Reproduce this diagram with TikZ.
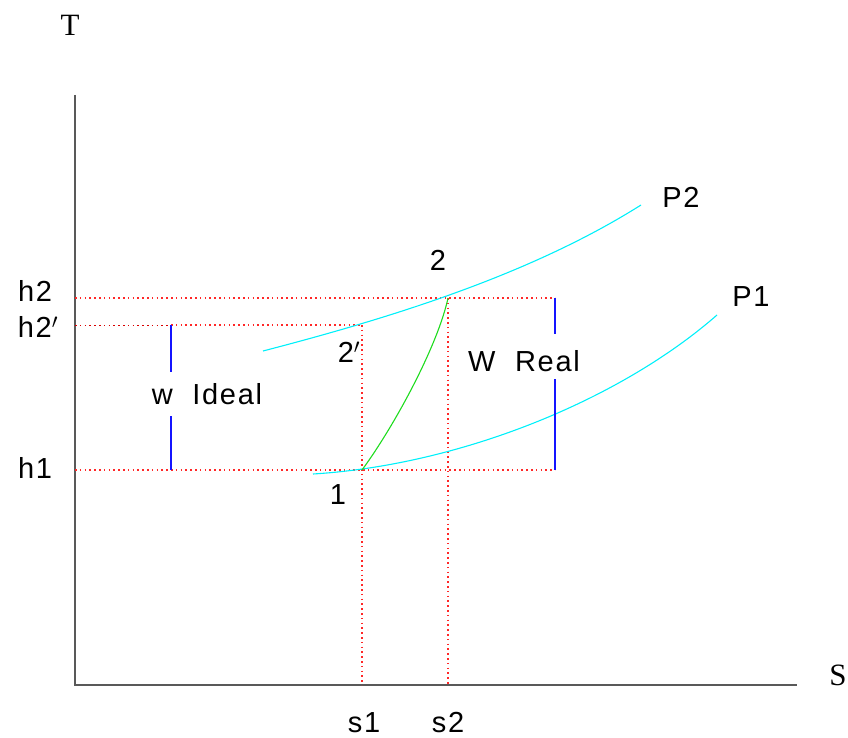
\documentclass[tikz,border=0pt]{standalone}
\usepackage{fontspec}
\setmainfont{Liberation Serif}
\newfontfamily\cadfont[LetterSpace=6]{Liberation Sans}
\usetikzlibrary{positioning}
\definecolor{isocyan}{RGB}{0,240,250}
\definecolor{realgreen}{RGB}{30,220,30}
\definecolor{guidered}{RGB}{255,40,40}
\definecolor{workblue}{RGB}{20,20,255}

\begin{document}
\begin{tikzpicture}[x=1pt, y=-1pt, line width=.8pt,
    axis/.style={draw=black!65, line width=1.3pt},
    guide/.style={guidered, line width=1.2pt, dash pattern=on 1.6pt off 3.2pt},
    isobar/.style={isocyan, line width=1.1pt},
    bar/.style={workblue, line width=1.1pt},
    lbl/.style={font=\cadfont\fontsize{29}{32}\selectfont, inner sep=0pt},
    axlbl/.style={font=\fontsize{31}{33}\selectfont, inner sep=0pt}]
    \useasboundingbox (0,0) rectangle (848,738);

    % axes
    \coordinate (ytop) at (75,95);
    \coordinate (orig) at (75,685);
    \coordinate (xend) at (797,685);
    \draw[axis] (ytop) -- (orig) -- (xend);
    \node[axlbl] (T) at (70,25) {T};
    \node[axlbl] (S) at (838,675) {S};

    % state points and guide ends
    \coordinate (pt1) at (362,470);
    \coordinate (pt2) at (448,298);
    \coordinate (pt2i) at (362,325);
    \coordinate (h1ax) at (75,470);
    \coordinate (h2ax) at (75,298);
    \coordinate (h2iax) at (75,325);
    \coordinate (h2imid) at (171,325);
    \coordinate (s1ax) at (362,685);
    \coordinate (s2ax) at (448,685);
    \coordinate (wr2) at (555,298);
    \coordinate (wr1) at (555,470);
    \coordinate (wi1) at (171,470);

    % dotted guides
    \draw[guide] (h2ax) -- (pt2) -- (wr2);
    \draw[guide] (h1ax) -- (pt1) -- (wr1);
    \draw[guide, red!85!black, line width=1pt] (h2iax) -- (h2imid);
    \draw[guide] (h2imid) -- (pt2i);
    \draw[guide] (pt2i) -- (s1ax);
    \draw[guide] (pt2) -- (s2ax);

    % isobars
    \coordinate (p2a) at (263,351);
    \coordinate (p2b) at (641,205);
    \coordinate (p1a) at (313,474);
    \coordinate (p1b) at (717,315);
    \draw[isobar] (p2a) .. controls (390,318) and (530,275) .. (p2b);
    \draw[isobar] (p1a) .. controls (460,465) and (620,400) .. (p1b);

    % real compression
    \draw[realgreen, line width=1.1pt] (pt1) .. controls (395,425) and (438,345) .. (pt2);

    % work bars
    \node[lbl] (wideal) at (207,394) {w\ \ Ideal};
    \node[lbl] (wreal) at (524,361) {W\ \ Real};
    \coordinate (wi2a) at (171,372);
    \coordinate (wi1a) at (171,416);
    \coordinate (wr2a) at (555,334);
    \coordinate (wr1a) at (555,379);
    \draw[bar] (h2imid) -- (wi2a);
    \draw[bar] (wi1a) -- (wi1);
    \draw[bar] (wr2) -- (wr2a);
    \draw[bar] (wr1a) -- (wr1);

    % labels
    \node[lbl] (lh2) at (35,291) {h2};
    \node[lbl] (lh2i) at (38,327) {h2$'$};
    \node[lbl] (lh1) at (35,468) {h1};
    \node[lbl] (ls1) at (364,723) {s1};
    \node[lbl] (ls2) at (448,723) {s2};
    \node[lbl] (l1) at (338,495) {1};
    \node[lbl] (l2) at (438,260) {2};
    \node[lbl] (l2i) at (349,352) {2$'$};
    \node[lbl] (lP2) at (681,197) {P2};
    \node[lbl] (lP1) at (751,297) {P1};
\end{tikzpicture}
\end{document}
